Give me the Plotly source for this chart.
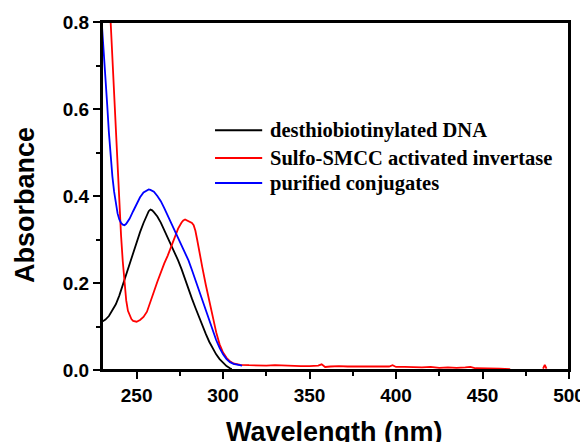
import plotly.graph_objects as go

# desthiobiotinylated DNA
dna_x = [230, 232, 234, 236, 238, 240, 242, 244, 246, 248, 250, 252, 254, 255, 256, 257, 258, 259, 260, 262, 264, 266, 268, 270, 272, 274, 276, 278, 280, 282, 284, 286, 288, 290, 292, 294, 296, 298, 300, 302, 304, 305]
dna_y = [0.111, 0.116, 0.124, 0.136, 0.151, 0.171, 0.195, 0.221, 0.248, 0.272, 0.295, 0.317, 0.338, 0.348, 0.358, 0.365, 0.369, 0.367, 0.363, 0.353, 0.339, 0.322, 0.304, 0.287, 0.270, 0.252, 0.232, 0.208, 0.186, 0.164, 0.143, 0.122, 0.102, 0.083, 0.065, 0.050, 0.036, 0.025, 0.016, 0.009, 0.004, 0.002]

# Sulfo-SMCC activated invertase
inv_x = [235, 236, 237, 238, 239, 240, 241, 242, 243, 244, 245, 246, 247, 248, 250, 252, 254, 256, 258, 260, 262, 264, 266, 268, 270, 272, 274, 276, 277, 278, 279, 280, 281, 282, 283, 284, 285, 286, 287, 288, 290, 292, 294, 296, 298, 300, 302, 304, 306, 308, 310,
         315, 320, 325, 330, 335, 340, 345, 350, 355, 357, 359, 362, 367, 372, 377, 382, 387, 392, 396, 398, 400, 405, 410, 415, 420, 425, 430, 435, 440, 443, 446, 450, 455, 460, 466,
         None, 485, 486, 487]
inv_y = [0.80, 0.715, 0.63, 0.545, 0.46, 0.38, 0.31, 0.25, 0.198, 0.160, 0.136, 0.124, 0.117, 0.113, 0.111, 0.115, 0.122, 0.134, 0.155, 0.180, 0.203, 0.225, 0.245, 0.263, 0.283, 0.305, 0.325, 0.339, 0.344, 0.346, 0.344, 0.341, 0.339, 0.338, 0.333, 0.320, 0.300, 0.277, 0.256, 0.236, 0.196, 0.160, 0.122, 0.087, 0.059, 0.040, 0.028, 0.020, 0.015, 0.013, 0.012,
         0.011, 0.010, 0.010, 0.011, 0.010, 0.010, 0.009, 0.009, 0.010, 0.013, 0.007, 0.008, 0.009, 0.008, 0.008, 0.009, 0.008, 0.009, 0.008, 0.011, 0.007, 0.007, 0.006, 0.006, 0.007, 0.005, 0.006, 0.005, 0.006, 0.007, 0.004, 0.004, 0.003, 0.003, 0.002,
         None, 0.003, 0.012, 0.003]

# purified conjugates
conj_x = [230, 231, 232, 233, 234, 235, 236, 237, 238, 239, 240, 241, 242, 243, 244, 246, 248, 250, 252, 254, 256, 257, 258, 260, 262, 264, 266, 268, 270, 272, 274, 276, 278, 280, 282, 284, 286, 288, 290, 292, 294, 296, 298, 300, 302, 304, 306, 308, 311]
conj_y = [0.79, 0.735, 0.675, 0.61, 0.545, 0.49, 0.445, 0.41, 0.382, 0.360, 0.346, 0.338, 0.334, 0.333, 0.336, 0.348, 0.365, 0.382, 0.397, 0.408, 0.414, 0.415, 0.414, 0.410, 0.400, 0.388, 0.372, 0.355, 0.339, 0.322, 0.306, 0.290, 0.272, 0.252, 0.230, 0.207, 0.183, 0.160, 0.136, 0.112, 0.090, 0.069, 0.051, 0.036, 0.025, 0.018, 0.014, 0.012, 0.010]

series_names = ["desthiobiotinylated DNA", "Sulfo-SMCC activated invertase", "purified conjugates"]
series_x = [dna_x, inv_x, conj_x]
series_y = [dna_y, inv_y, conj_y]
series_colors = ["#000000", "#ff0000", "#0000ff"]

fig = go.Figure()
for name, xs, ys, col in zip(series_names, series_x, series_y, series_colors):
    fig.add_trace(go.Scatter(x=xs, y=ys, mode="lines", name=name, showlegend=False,
                             line=dict(color=col, width=1.8)))

tickfont = dict(family="Liberation Sans, Arial", size=19, color="black", weight="bold")
base = dict(showline=True, linecolor="black", linewidth=2, mirror=True,
            ticks="outside", ticklen=7, tickwidth=2, tickcolor="black",
            tickfont=tickfont, showgrid=False, zeroline=False, automargin=False)

fig.update_xaxes(range=[230, 500], dtick=50, tick0=250,
                 minor=dict(ticks="outside", ticklen=4, dtick=25), **base)
fig.update_yaxes(range=[0, 0.8], dtick=0.2, tickformat=".1f",
                 minor=dict(ticks="outside", ticklen=4, dtick=0.1), **base)

# plot frame
fig.add_shape(type="rect", xref="paper", yref="paper", x0=0, x1=1, y0=0, y1=1,
              line=dict(color="black", width=2), layer="above")

# legend drawn inside the plot (line sample + label per series)
legend_rows = [0.689, 0.609, 0.537]
for name, col, ry in zip(series_names, series_colors, legend_rows):
    fig.add_shape(type="line", xref="paper", yref="paper", x0=0.242, x1=0.343, y0=ry, y1=ry,
                  line=dict(color=col, width=2))
    fig.add_annotation(text="<b>" + name + "</b>", xref="paper", yref="paper", x=0.355, y=ry,
                       showarrow=False, xanchor="left", yanchor="middle",
                       font=dict(family="Liberation Serif, Times New Roman", size=20.5, color="black"))

titlefont = dict(family="Liberation Sans, Arial", size=27, color="black")
fig.add_annotation(text="<b>Absorbance</b>", xref="paper", yref="paper", x=-0.165, y=0.474,
                   textangle=-90, showarrow=False, xanchor="center", yanchor="middle", font=titlefont)
fig.add_annotation(text="<b>Wavelength (nm)</b>", xref="paper", yref="paper", x=0.497, y=-0.178,
                   showarrow=False, xanchor="center", yanchor="middle", font=titlefont)

fig.update_layout(
    width=580, height=434, autosize=False,
    margin=dict(l=94, r=19, t=14, b=72),
    plot_bgcolor="white", paper_bgcolor="white",
    showlegend=False,
)

fig.write_html("out.html")
